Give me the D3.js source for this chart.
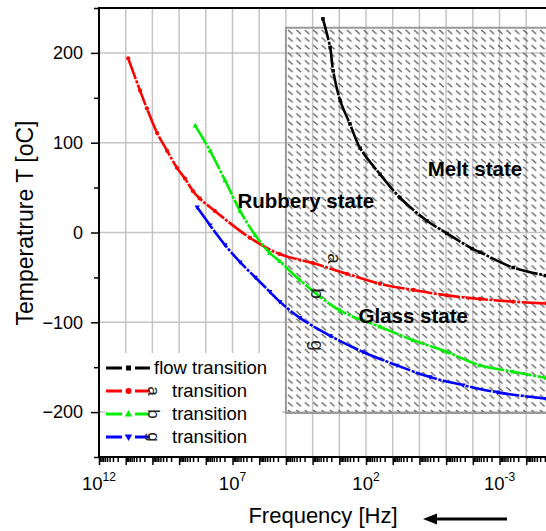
<!DOCTYPE html>
<html><head><meta charset="utf-8">
<script src="https://cdn.jsdelivr.net/npm/d3@7"></script>
<style>
body{margin:0;background:#fff;}
text{font-family:"Liberation Sans",Arial,sans-serif;}
</style></head>
<body>
<svg id="c" width="546" height="531"></svg>
<script>
// ---- data (frequency in Hz, temperature in °C) ----
const flowFreq  = [4.1e3, 2.2e3, 1.7e3, 930, 400, 166, 30, 5.4, 0.52, 0.093, 0.0107, 5.4e-3, 3.1e-4, 1.8e-5];
const flowTemp  = [238, 206, 180, 147, 121, 94, 65, 39, 13, -1, -18, -22, -39, -48];
const alphaFreq = [8.1e10, 2.9e10, 1.6e10, 6.7e9, 2.8e9, 1.2e9, 6.0e8, 3.0e8, 1.7e8, 4.6e7, 2.2e6, 1.7e5, 9.8e3, 520, 30, 1.7, 0.093, 5.4e-3, 3.1e-4, 1.8e-5];
const alphaTemp = [194, 158, 138, 111, 91, 72, 60, 46, 38, 24, -6, -24, -34, -46, -57, -64, -70, -74, -77, -79];
const betaFreq  = [2.5e8, 6.9e7, 1.9e7, 5.2e6, 1.4e6, 4.0e5, 1.7e5, 3.0e4, 930, 30, 1.7, 0.093, 5.4e-3, 3.1e-4, 1.8e-5];
const betaTemp  = [119, 91, 58, 24, -3, -23, -32, -53, -87, -105, -120, -133, -148, -155, -162];
const gammaFreq = [2.1e8, 6.9e7, 1.9e7, 5.2e6, 1.4e6, 4.0e5, 1.7e5, 3.0e4, 2.2e3, 130, 6.9, 0.40, 0.023, 1.2e-3, 1.8e-5];
const gammaTemp = [28, 8, -14, -33, -50, -66, -77, -95, -115, -133, -148, -161, -170, -178, -185];

const seriesNames  = ["flow transition", "a", "b", "g"];
const seriesColors = ["#000000", "#ff0000", "#00ee00", "#0000ff"];
const seriesMarks  = ["square", "circle", "triUp", "triDown"];

const xDecades  = [12,11,10,9,8,7,6,5,4,3,2,1,0,-1,-2,-3,-4,-5];
const xLabelExp = [12, 7, 2, -3];
const yMajor = [-200, -100, 0, 100, 200];
const yMinor = [-250, -150, -50, 50, 150, 250];

// hatched region in data space
const regionFreq = [1e5, 1e-5];
const regionTemp = [-201, 228];

const stateLabels = ["Melt state", "Rubbery state", "Glass state"];
const stateFreq   = [8.3e-3, 1.8e4, 1.7];
const stateTemp   = [63, 27, -101];

const greekLetters = ["a", "b", "g"];
const greekFreq    = [1.45e3, 6.3e3, 6.3e3];
const greekTemp    = [-29, -68, -126];

// ---- layout ----
const svg = d3.select("#c");
const L = 99, T = 8, B = 457, R = 546;
const x = d3.scaleLog().domain([1e12, 1e-5]).range([L, L + 17 * 26.7]);
const y = d3.scaleLinear().domain([-250, 250]).range([B, T]);

const defs = svg.append("defs");
const pat = defs.append("pattern").attr("id", "hatch").attr("patternUnits", "userSpaceOnUse")
  .attr("width", 8.4).attr("height", 7.6).attr("x", 287).attr("y", 29);
pat.append("line").attr("x1", 1).attr("y1", 1).attr("x2", 5.6).attr("y2", 4.9)
  .attr("stroke", "#5a5a5a").attr("stroke-width", 1.3);
defs.append("clipPath").attr("id", "plot").append("rect")
  .attr("x", L).attr("y", T).attr("width", R - L).attr("height", B - T);

// grid
const grid = svg.append("g").attr("stroke", "#c4c4c4").attr("stroke-width", 1.5);
grid.selectAll(".gv").data(xDecades.filter(d => d < 12)).enter().append("line")
  .attr("x1", d => x(Math.pow(10, d))).attr("x2", d => x(Math.pow(10, d)))
  .attr("y1", T).attr("y2", B);
grid.selectAll(".gh").data(yMajor).enter().append("line")
  .attr("x1", L).attr("x2", R).attr("y1", d => y(d)).attr("y2", d => y(d));

// hatched region
svg.append("rect")
  .attr("x", x(regionFreq[0])).attr("y", y(regionTemp[1]))
  .attr("width", x(regionFreq[1]) - x(regionFreq[0]))
  .attr("height", y(regionTemp[0]) - y(regionTemp[1]))
  .attr("fill", "url(#hatch)").attr("stroke", "#9a9a9a").attr("stroke-width", 2);

// curves
const allFreq = [flowFreq, alphaFreq, betaFreq, gammaFreq];
const allTemp = [flowTemp, alphaTemp, betaTemp, gammaTemp];
const line = d3.line().x(d => x(d[0])).y(d => y(d[1])).curve(d3.curveCatmullRom.alpha(0.5));
const curves = svg.append("g").attr("clip-path", "url(#plot)");

function marker(g, type, cx, cy, color, s) {
  if (type === "circle") g.append("circle").attr("cx", cx).attr("cy", cy).attr("r", s * 0.6).attr("fill", color);
  else if (type === "square") g.append("rect").attr("x", cx - s * 0.5).attr("y", cy - s * 0.5).attr("width", s).attr("height", s).attr("fill", color);
  else if (type === "triUp") g.append("path").attr("d", `M${cx},${cy - s * 0.8}L${cx + s * 0.75},${cy + s * 0.5}L${cx - s * 0.75},${cy + s * 0.5}Z`).attr("fill", color);
  else g.append("path").attr("d", `M${cx},${cy + s * 0.8}L${cx + s * 0.75},${cy - s * 0.5}L${cx - s * 0.75},${cy - s * 0.5}Z`).attr("fill", color);
}

allFreq.forEach((fs, i) => {
  const pts = fs.map((f, j) => [f, allTemp[i][j]]);
  curves.append("path").attr("d", line(pts)).attr("fill", "none")
    .attr("stroke", seriesColors[i]).attr("stroke-width", 2.6)
    .attr("stroke-dasharray", "22,1.5,3,1.5");
  const mg = curves.append("g");
  pts.forEach(p => marker(mg, seriesMarks[i], x(p[0]), y(p[1]), seriesColors[i], 3.5));
});

// state labels
svg.selectAll(".st").data(stateLabels).enter().append("text")
  .attr("x", (d, i) => x(stateFreq[i])).attr("y", (d, i) => y(stateTemp[i]))
  .attr("text-anchor", "middle").attr("font-size", 20.5).attr("font-weight", "bold")
  .attr("fill", "#000").text(d => d);

// greek (symbol-font) letters along curves
svg.selectAll(".gk").data(greekLetters).enter().append("text")
  .attr("transform", (d, i) => `translate(${x(greekFreq[i])},${y(greekTemp[i])}) rotate(90)`)
  .attr("text-anchor", "middle").attr("dy", "0.35em").attr("font-size", 19).attr("fill", "#222")
  .text(d => d);

// legend
const lg = svg.append("g");
lg.append("rect").attr("x", 106).attr("y", 353).attr("width", 176).attr("height", 103).attr("fill", "#fff");
const rowY = [368, 391, 414, 437];
seriesNames.forEach((n, i) => {
  const yy = rowY[i], c = seriesColors[i];
  lg.append("line").attr("x1", 106).attr("x2", 122).attr("y1", yy).attr("y2", yy).attr("stroke", c).attr("stroke-width", 3);
  lg.append("line").attr("x1", 135).attr("x2", 150).attr("y1", yy).attr("y2", yy).attr("stroke", c).attr("stroke-width", 3);
  marker(lg, seriesMarks[i], 128.5, yy, c, 5);
  if (i === 0) {
    lg.append("text").attr("x", 154).attr("y", yy + 6).attr("font-size", 18.5).text(n);
  } else {
    lg.append("text").attr("transform", `translate(154,${yy}) rotate(90)`).attr("text-anchor", "middle")
      .attr("dy", "0.35em").attr("font-size", 17).attr("fill", "#222").text(n);
    lg.append("text").attr("x", 172).attr("y", yy + 6).attr("font-size", 18.5).text("transition");
  }
});

// axes
const ax = svg.append("g");
ax.append("line").attr("x1", L).attr("x2", R).attr("y1", T).attr("y2", T).attr("stroke", "#000").attr("stroke-width", 2);

const minorX = [];
xDecades.forEach(d => { for (let k = 2; k <= 9; k++) minorX.push(k * Math.pow(10, d)); });
const gxMinor = ax.append("g").attr("transform", `translate(0,${B})`)
  .call(d3.axisBottom(x).tickValues(minorX.filter(v => v < 1e12 && x(v) <= R)).tickSize(5).tickFormat(""));
const gxMajor = ax.append("g").attr("transform", `translate(0,${B})`)
  .call(d3.axisBottom(x).tickValues(xDecades.map(d => Math.pow(10, d)).filter(v => x(v) <= R)).tickSize(8).tickFormat(""));
[gxMinor, gxMajor].forEach(g => { g.select(".domain").remove(); g.selectAll("line").attr("stroke-width", 1.5); });
ax.append("line").attr("x1", L - 1).attr("x2", R).attr("y1", B).attr("y2", B).attr("stroke", "#000").attr("stroke-width", 2);

const xl = ax.append("g");
xLabelExp.forEach(e => {
  const t = xl.append("text").attr("x", x(Math.pow(10, e))).attr("y", 490).attr("text-anchor", "middle").attr("font-size", 18.5);
  t.append("tspan").text("10");
  t.append("tspan").attr("font-size", 12).attr("dy", -9).text(e);
});

const gyMinor = ax.append("g").attr("transform", `translate(${L},0)`)
  .call(d3.axisLeft(y).tickValues(yMinor).tickSize(5).tickFormat(""));
const gyMajor = ax.append("g").attr("transform", `translate(${L},0)`)
  .call(d3.axisLeft(y).tickValues(yMajor).tickSize(8).tickPadding(8).tickFormat(d3.format("d")));
[gyMinor, gyMajor].forEach(g => { g.select(".domain").remove(); g.selectAll("line").attr("stroke-width", 1.5); });
gyMajor.selectAll("text").attr("font-size", 18).attr("font-family", "Liberation Sans, Arial, sans-serif").attr("fill", "#000");
ax.append("line").attr("x1", L).attr("x2", L).attr("y1", T - 1).attr("y2", B + 1).attr("stroke", "#000").attr("stroke-width", 2);

// axis titles
svg.append("text").attr("x", 323).attr("y", 523).attr("text-anchor", "middle").attr("font-size", 22).text("Frequency [Hz]");
svg.append("text").attr("transform", "translate(33,223) rotate(-90)").attr("text-anchor", "middle").attr("font-size", 23)
  .text("Temperatrure T [oC]");

// arrow
svg.append("line").attr("x1", 432).attr("x2", 507).attr("y1", 519).attr("y2", 519).attr("stroke", "#000").attr("stroke-width", 3);
svg.append("path").attr("d", "M423,519 L437,513.5 L437,524.5 Z").attr("fill", "#000");
</script>
</body></html>
